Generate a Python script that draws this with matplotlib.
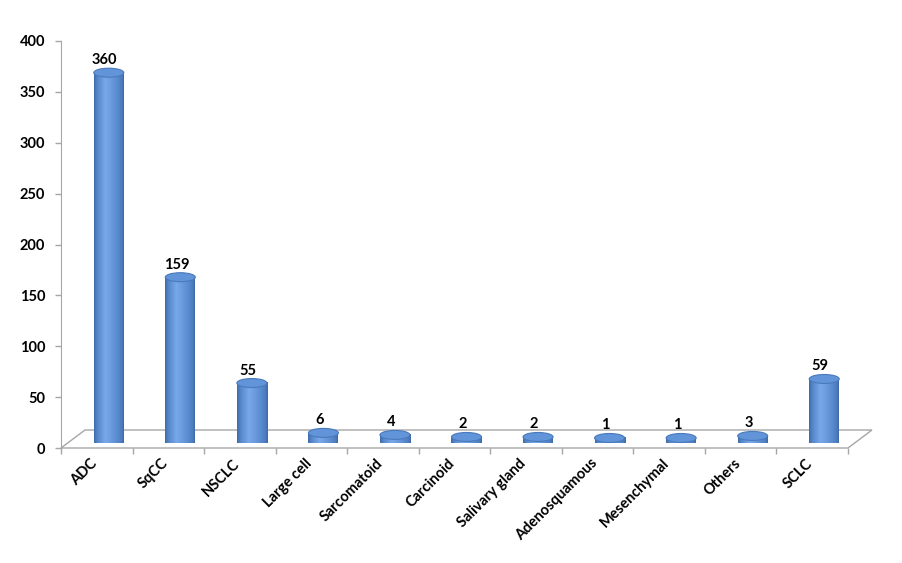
import numpy as np
import matplotlib
matplotlib.use('Agg')
import matplotlib.pyplot as plt
from matplotlib.patches import Ellipse, Polygon
import matplotlib.transforms as mtransforms
from matplotlib.colors import LinearSegmentedColormap

categories = ['ADC', 'SqCC', 'NSCLC', 'Large cell', 'Sarcomatoid', 'Carcinoid',
              'Salivary gland', 'Adenosquamous', 'Mesenchymal', 'Others', 'SCLC']
values = [360, 159, 55, 6, 4, 2, 2, 1, 1, 3, 59]
y_ticks = [0, 50, 100, 150, 200, 250, 300, 350, 400]

plt.rcParams['font.family'] = ['Lato', 'DejaVu Sans']

W, H, DPI = 902, 563, 100
fig = plt.figure(figsize=(W / DPI, H / DPI), dpi=DPI)
fig.patch.set_facecolor('white')
L, B, R, T = 61, 448, 848, 41
ax = fig.add_axes([L / W, (H - B) / H, (R - L) / W, (B - T) / H])
n = len(categories)
ax.set_xlim(0, n)
ax.set_ylim(0, 400)
ppx = (R - L) / n
ppy = (B - T) / 400.0

gray = '#a6a6a6'
# floor
ddx, ddy = 24 / ppx, 18 / ppy
floor = Polygon([(0, 0), (n, 0), (n + ddx, ddy), (ddx, ddy)], closed=True,
                facecolor='white', edgecolor=gray, lw=1.0, clip_on=False, zorder=1)
ax.add_patch(floor)

cmap = LinearSegmentedColormap.from_list('cyl', [
    (0.0, '#3f6ba8'), (0.12, '#5587ca'), (0.38, '#78a8ea'), (0.55, '#6d9de0'),
    (0.8, '#5889ce'), (0.93, '#4c7bbd'), (1.0, '#3e68a4')])
grad = np.linspace(0, 1, 256)[None, :]

rw = 30 / ppx
eh = 9 / ppy
for i, v in enumerate(values):
    cx = i + 0.5 + 12 / ppx
    base = 9 / ppy
    top = base + v
    th = np.linspace(np.pi, 2 * np.pi, 60)
    pts = [(cx - rw / 2, top)]
    pts += list(zip(cx + rw / 2 * np.cos(th), base + eh / 2 * np.sin(th)))
    pts += [(cx + rw / 2, top)]
    body = Polygon(pts, closed=True, facecolor='none', edgecolor='none',
                   clip_on=False, zorder=3)
    ax.add_patch(body)
    im = ax.imshow(grad, cmap=cmap, aspect='auto', interpolation='bilinear',
                   extent=[cx - rw / 2, cx + rw / 2, base - eh / 2, top],
                   zorder=3, clip_on=False)
    im.set_clip_path(body)
    ax.add_patch(Ellipse((cx, top), rw, eh, facecolor='#6194d8',
                         edgecolor='#4a7abb', lw=0.8, zorder=4, clip_on=False))
    ax.text(cx - 4 / ppx, top + eh / 2 + 4 / ppy, str(v), ha='center',
            va='baseline', fontsize=10.5, fontweight='bold', color='black',
            zorder=5, clip_on=False)

ax.set_xlim(0, n)
ax.set_ylim(0, 400)

for s in ['top', 'right', 'bottom']:
    ax.spines[s].set_visible(False)
ax.spines['left'].set_color(gray)
ax.spines['left'].set_zorder(2)

ax.set_yticks(y_ticks)
ax.set_yticklabels([str(t) for t in y_ticks], fontweight='bold', fontsize=10.5)
ax.tick_params(axis='y', length=4.3, color=gray, pad=7.0, width=1)

ax.set_xticks(np.arange(n) + 0.5)
ax.set_xticklabels(categories, rotation=45, ha='right', fontweight='bold', fontsize=10.5)
ax.tick_params(axis='x', which='major', length=0, pad=6.0)
ax.set_xticks(np.arange(n + 1), minor=True)
ax.tick_params(axis='x', which='minor', length=4.3, color=gray, width=1, direction='out')
off = mtransforms.ScaledTranslation(3 / DPI, 0, fig.dpi_scale_trans)
for lab in ax.get_xticklabels():
    lab.set_transform(lab.get_transform() + off)

ax.patch.set_visible(False)
fig.savefig('out.png', dpi=DPI, facecolor='white')
